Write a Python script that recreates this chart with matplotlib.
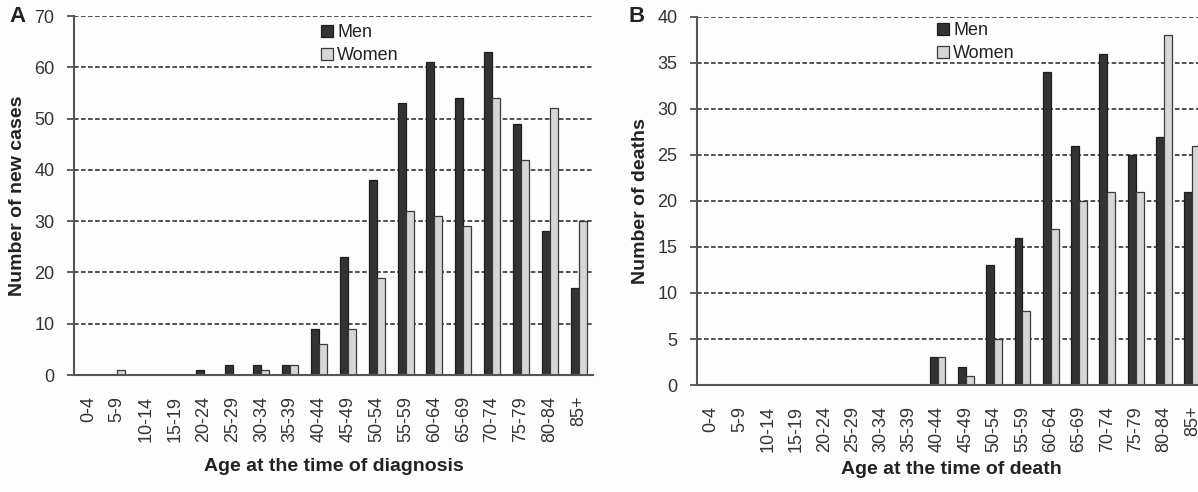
import numpy as np
import matplotlib
matplotlib.use("Agg")
import matplotlib.pyplot as plt
from matplotlib.patches import Patch

plt.rcParams['font.family'] = ['Liberation Sans', 'DejaVu Sans']

ages = ["0-4", "5-9", "10-14", "15-19", "20-24", "25-29", "30-34", "35-39",
        "40-44", "45-49", "50-54", "55-59", "60-64", "65-69", "70-74",
        "75-79", "80-84", "85+"]

# panel A: new cases
cases_men = [0, 0, 0, 0, 1, 2, 2, 2, 9, 23, 38, 53, 61, 54, 63, 49, 28, 17]
cases_women = [0, 1, 0, 0, 0, 0, 1, 2, 6, 9, 19, 32, 31, 29, 54, 42, 52, 30]

# panel B: deaths
deaths_men = [0, 0, 0, 0, 0, 0, 0, 0, 3, 2, 13, 16, 34, 26, 36, 25, 27, 21]
deaths_women = [0, 0, 0, 0, 0, 0, 0, 0, 3, 1, 5, 8, 17, 20, 21, 21, 38, 26]

MEN_C = '#333333'
WOMEN_C = '#d6d6d6'
W = 0.28

W_PX, H_PX = 1198, 492
fig = plt.figure(figsize=(W_PX / 100, H_PX / 100), dpi=100)
fig.patch.set_facecolor('#fdfdfd')


def px_axes(x0, x1, ytop, ybot):
    return fig.add_axes([x0 / W_PX, 1 - ybot / H_PX, (x1 - x0) / W_PX,
                         (ybot - ytop) / H_PX])


def draw_panel(ax, men, women, ymax, ystep, ylabel, xlabel, xlab_y):
    x = np.arange(len(ages))
    ax.set_facecolor('#fdfdfd')
    for yv in np.arange(ystep, ymax + 0.1, ystep):
        ax.axhline(yv, color='#222222', lw=1.1, ls=(0, (3, 1.6)), zorder=1)
    ax.bar(x - W / 2, men, W, color=MEN_C, edgecolor='#1e1e1e', lw=0.9,
           zorder=3)
    ax.bar(x + W / 2, women, W, color=WOMEN_C, edgecolor='#3a3a3a', lw=0.9,
           zorder=3)
    ax.set_xlim(-0.5, len(ages) - 0.5)
    ax.set_ylim(0, ymax)
    ax.set_yticks(np.arange(0, ymax + 0.1, ystep))
    ax.set_xticks(x)
    ax.set_xticklabels(ages, rotation=90, fontsize=13, color='#333333',
                       va='top')
    ax.tick_params(axis='x', length=0, pad=15)
    ax.tick_params(axis='y', length=5, width=1.1, color='#333333',
                   labelsize=13, labelcolor='#333333', pad=9)
    for s in ('top', 'right'):
        ax.spines[s].set_visible(False)
    ax.spines['left'].set_color('#555555')
    ax.spines['left'].set_linewidth(1.5)
    ax.spines['bottom'].set_color('#555555')
    ax.spines['bottom'].set_linewidth(1.5)
    ax.spines['bottom'].set_zorder(4)
    ax.set_ylabel(ylabel, fontsize=14, fontweight='bold', color='#222222',
                  labelpad=6)
    ax.text(0.5, xlab_y, xlabel, transform=ax.transAxes, ha='center',
            va='center', fontsize=14, fontweight='bold', color='#222222')


axA = px_axes(74, 593, 16, 375)
draw_panel(axA, cases_men, cases_women, 70, 10, 'Number of new cases',
           'Age at the time of diagnosis', -0.255)

axB = px_axes(697, 697 + 18 * 28.3, 17, 385)
draw_panel(axB, deaths_men, deaths_women, 40, 5, 'Number of deaths',
           'Age at the time of death', -0.23)

handles = [Patch(facecolor=MEN_C, edgecolor='#1e1e1e', lw=0.9, label='Men'),
           Patch(facecolor=WOMEN_C, edgecolor='#3a3a3a', lw=0.9,
                 label='Women')]
for lx, ly in ((321, 24), (937, 22)):
    fig.legend(handles=handles, loc='upper left',
               bbox_to_anchor=(lx / W_PX, 1 - ly / H_PX), frameon=False,
               fontsize=13, handlelength=0.65, handleheight=0.65,
               handletextpad=0.25, labelspacing=0.35, borderpad=0,
               borderaxespad=0, labelcolor='#222222')

fig.text(18 / W_PX, 1 - 16 / H_PX, 'A', fontsize=16, fontweight='bold',
         ha='center', va='center', color='#222222')
fig.text(637 / W_PX, 1 - 17 / H_PX, 'B', fontsize=16, fontweight='bold',
         ha='center', va='center', color='#222222')

fig.savefig('out.png', dpi=100, facecolor=fig.get_facecolor())
